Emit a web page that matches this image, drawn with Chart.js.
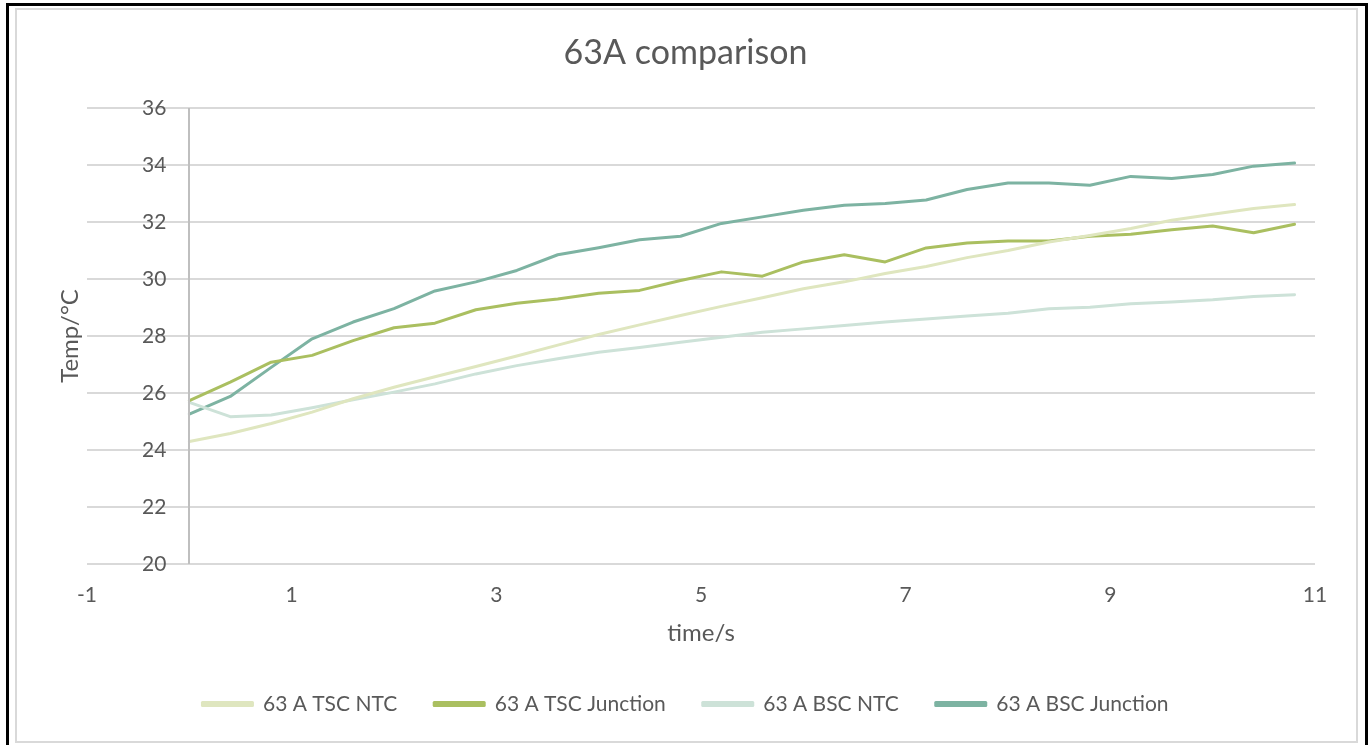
<!DOCTYPE html>
<html lang="en">
<head>
    <meta charset="UTF-8">
    <title>63A comparison</title>
    <script src="https://cdn.jsdelivr.net/npm/chart.js"></script>
    <style>
        body {
            margin: 0;
            padding: 0;
            background-color: #fff;
            font-family: Lato, sans-serif;
        }

        .wrap {
            position: relative;
            width: 1370px;
            height: 745px;
            overflow: hidden;
        }

        canvas {
            position: absolute;
            left: 0;
            top: 0;
        }

        .frame-outer {
            position: absolute;
            left: 6px;
            top: 3px;
            width: 1362px;
            height: 800px;
            border: 3px solid #000;
            box-sizing: border-box;
            pointer-events: none;
        }

        .frame-inner {
            position: absolute;
            left: 15px;
            top: 8px;
            width: 1343px;
            height: 735px;
            border: 2px solid #d9d9d9;
            box-sizing: border-box;
            pointer-events: none;
        }
    </style>
</head>
<body>
    <div class="wrap">
        <canvas id="myChart" width="1370" height="745"></canvas>
        <div class="frame-outer"></div>
        <div class="frame-inner"></div>
    </div>

<script>
    // time in seconds
    var time = [0, 0.4, 0.8, 1.2, 1.6, 2.0, 2.4, 2.8, 3.2, 3.6, 4.0, 4.4, 4.8, 5.2,
                5.6, 6.0, 6.4, 6.8, 7.2, 7.6, 8.0, 8.4, 8.8, 9.2, 9.6, 10.0, 10.4, 10.8];

    var tscNtc = [24.30, 24.58, 24.93, 25.33, 25.80, 26.20, 26.57, 26.93, 27.30, 27.68,
                  28.05, 28.39, 28.72, 29.04, 29.34, 29.66, 29.90, 30.19, 30.44, 30.75,
                  31.00, 31.30, 31.53, 31.77, 32.06, 32.27, 32.47, 32.61];

    var tscJunction = [25.73, 26.38, 27.08, 27.32, 27.84, 28.29, 28.45, 28.92, 29.15, 29.30,
                       29.50, 29.60, 29.95, 30.25, 30.10, 30.60, 30.85, 30.60, 31.09, 31.26,
                       31.33, 31.33, 31.50, 31.57, 31.73, 31.86, 31.62, 31.92];

    var bscNtc = [25.67, 25.17, 25.23, 25.48, 25.76, 26.03, 26.32, 26.67, 26.96, 27.20,
                  27.43, 27.60, 27.78, 27.96, 28.13, 28.25, 28.37, 28.49, 28.60, 28.70,
                  28.80, 28.96, 29.01, 29.13, 29.19, 29.27, 29.39, 29.45];

    var bscJunction = [25.26, 25.88, 26.90, 27.90, 28.49, 28.96, 29.58, 29.90, 30.30, 30.85,
                       31.10, 31.38, 31.50, 31.95, 32.18, 32.41, 32.59, 32.65, 32.77, 33.14,
                       33.37, 33.37, 33.29, 33.60, 33.53, 33.67, 33.96, 34.07];

    var seriesNames = ['63 A TSC NTC', '63 A TSC Junction', '63 A BSC NTC', '63 A BSC Junction'];
    var seriesColors = ['#dfe6bf', '#aabf60', '#cde2d8', '#7db3a2'];

    var textColor = '#595959';
    var fontFamily = 'Lato, sans-serif';

    function points(values) {
        return time.map(function(t, i) {
            return { x: t, y: values[i] };
        });
    }

    // vertical axis crosses at x = 0
    var axisAtZero = {
        id: 'axisAtZero',
        afterDatasetsDraw: function(chart) {
            var ctx = chart.ctx;
            var x = Math.round(chart.scales.x.getPixelForValue(0));
            var yTop = chart.scales.y.getPixelForValue(36);
            var yBottom = chart.scales.y.getPixelForValue(20);
            ctx.save();
            ctx.strokeStyle = '#bfbfbf';
            ctx.lineWidth = 2;
            ctx.beginPath();
            ctx.moveTo(x, yTop);
            ctx.lineTo(x, yBottom);
            ctx.stroke();
            ctx.restore();
        }
    };

    window.onload = function() {
        var allSeries = [tscNtc, tscJunction, bscNtc, bscJunction];
        var datasets = allSeries.map(function(values, i) {
            return {
                label: seriesNames[i],
                data: points(values),
                borderColor: seriesColors[i],
                backgroundColor: seriesColors[i],
                borderWidth: 3,
                borderCapStyle: 'round',
                borderJoinStyle: 'round',
                pointRadius: 0,
                tension: 0
            };
        });

        var ctx = document.getElementById('myChart').getContext('2d');
        var myChart = new Chart(ctx, {
            type: 'line',
            data: { datasets: datasets },
            plugins: [axisAtZero],
            options: {
                responsive: false,
                animation: false,
                layout: {
                    padding: { left: 56, right: 55, top: 0, bottom: 20.5 }
                },
                scales: {
                    x: {
                        type: 'linear',
                        min: -1,
                        max: 11,
                        ticks: {
                            stepSize: 2,
                            color: textColor,
                            padding: 19,
                            maxRotation: 0,
                            font: { family: fontFamily, size: 21 }
                        },
                        grid: { display: false, drawTicks: false },
                        border: { display: false },
                        title: {
                            display: true,
                            text: 'time/s',
                            color: textColor,
                            padding: { top: -8.6, bottom: 9.1 },
                            font: { family: fontFamily, size: 24 }
                        }
                    },
                    y: {
                        min: 20,
                        max: 36,
                        ticks: {
                            stepSize: 2,
                            color: textColor,
                            mirror: true,
                            crossAlign: 'far',
                            padding: 55,
                            font: { family: fontFamily, size: 21 }
                        },
                        grid: { color: '#d9d9d9', lineWidth: 2, drawTicks: false },
                        border: { display: false },
                        title: {
                            display: true,
                            text: 'Temp/°C',
                            color: textColor,
                            padding: 0,
                            font: { family: fontFamily, size: 24 }
                        },
                        afterFit: function(scale) {
                            scale.width = 31;
                        }
                    }
                },
                plugins: {
                    title: {
                        display: true,
                        text: '63A comparison',
                        color: textColor,
                        padding: { top: 32.6, bottom: 34.6 },
                        font: { family: fontFamily, size: 34, weight: 'normal' }
                    },
                    legend: {
                        position: 'bottom',
                        labels: {
                            boxWidth: 50,
                            boxHeight: 3,
                            padding: 37,
                            color: textColor,
                            font: { family: fontFamily, size: 21 }
                        }
                    },
                    tooltip: { enabled: false }
                }
            }
        });
    };
</script>
</body>
</html>
